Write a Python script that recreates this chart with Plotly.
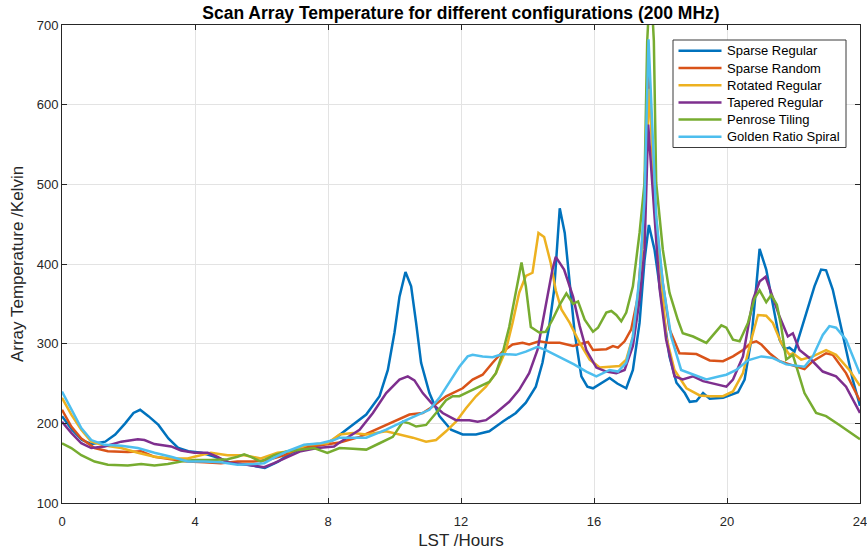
import plotly.graph_objects as go

# LST (hours) and array temperature (K) for each layout
sparse_regular_h = [
    0, 0.3, 0.6, 0.9, 1.3, 1.6, 1.9, 2.15, 2.35, 2.6,
    2.9, 3.2, 3.5, 3.8, 4.2, 4.6, 5.1, 5.6, 6.1, 6.5,
    6.9, 7.4, 7.8, 8.15, 8.55, 9.15, 9.55, 9.8, 10.0, 10.15,
    10.33, 10.5, 10.65, 10.8, 11.05, 11.35, 11.7, 12.05, 12.45, 12.85,
    13.25, 13.65, 13.95, 14.25, 14.45, 14.65, 14.8, 14.97, 15.12, 15.27,
    15.42, 15.62, 15.8, 15.97, 16.2, 16.47, 16.7, 16.97, 17.17, 17.37,
    17.52, 17.65, 17.82, 18.02, 18.27, 18.48, 18.73, 18.88, 19.08, 19.28,
    19.48, 19.88, 20.33, 20.53, 20.73, 20.88, 20.98, 21.18, 21.38, 21.58,
    21.73, 21.88, 22.03, 22.33, 22.63, 22.83, 22.98, 23.18, 23.48, 23.78,
    24,
]
sparse_regular_t = [
    209, 192, 179, 174, 177, 186, 200, 213, 217, 209,
    198, 181, 169, 165, 163, 158, 150, 148, 144, 152,
    163, 171, 173, 179, 192, 211, 234, 267, 314, 359,
    390, 372, 326, 276, 238, 209, 192, 186, 186, 190,
    202, 213, 226, 246, 276, 321, 367, 470, 439, 376,
    313, 259, 246, 244, 250, 257, 250, 244, 267, 326,
    405, 449, 418, 359, 284, 251, 238, 227, 228, 238,
    231, 232, 239, 255, 305, 372, 419, 393, 347, 305,
    293, 295, 290, 330, 372, 393, 392, 368, 313, 255,
    222,
]

sparse_random_h = [
    0, 0.28, 0.58, 0.98, 1.38, 1.98, 2.38, 2.78, 3.28, 3.78,
    4.28, 4.78, 5.28, 5.78, 6.18, 6.68, 7.18, 7.78, 8.35, 8.95,
    9.55, 10.05, 10.45, 10.85, 11.15, 11.55, 12.05, 12.35, 12.65, 12.95,
    13.25, 13.55, 13.85, 14.05, 14.35, 14.65, 14.97, 15.37, 15.82, 15.97,
    16.37, 16.57, 16.72, 16.92, 17.12, 17.32, 17.47, 17.65, 17.87, 18.07,
    18.27, 18.57, 19.08, 19.48, 19.88, 20.18, 20.48, 20.73, 20.88, 21.03,
    21.28, 21.58, 21.88, 22.33, 22.58, 22.98, 23.18, 23.58, 24,
]
sparse_random_t = [
    217, 196, 181, 169, 165, 164, 165, 158, 155, 152,
    151, 150, 152, 152, 154, 160, 169, 173, 176, 183,
    194, 204, 211, 213, 221, 234, 244, 255, 261, 276,
    290, 299, 301, 299, 303, 301, 301, 297, 302, 292,
    293, 297, 295, 303, 318, 359, 439, 637, 447, 376,
    318, 288, 287, 279, 278, 284, 292, 301, 303, 299,
    288, 278, 274, 268, 278, 288, 286, 263, 228,
]

rotated_regular_h = [
    0, 0.28, 0.58, 0.88, 1.28, 1.78, 2.28, 2.78, 3.28, 3.78,
    3.98, 4.48, 4.98, 5.48, 5.98, 6.48, 6.88, 7.38, 7.98, 8.35,
    8.75, 9.15, 9.75, 10.15, 10.55, 10.95, 11.25, 11.55, 11.85, 12.15,
    12.45, 12.75, 13.05, 13.35, 13.55, 13.75, 13.95, 14.15, 14.33, 14.5,
    14.7, 14.85, 15.02, 15.27, 15.57, 15.87, 16.17, 16.47, 16.77, 16.97,
    17.17, 17.37, 17.52, 17.66, 17.87, 18.17, 18.42, 18.78, 19.18, 19.48,
    19.88, 20.18, 20.48, 20.73, 20.93, 21.18, 21.38, 21.63, 21.88, 21.98,
    22.23, 22.58, 22.98, 23.28, 23.68, 24,
]
rotated_regular_t = [
    232, 211, 192, 177, 172, 169, 163, 158, 156, 156,
    158, 163, 160, 160, 156, 163, 165, 173, 175, 186,
    188, 186, 190, 186, 182, 177, 179, 190, 202, 219,
    234, 246, 263, 292, 326, 364, 385, 389, 439, 434,
    401, 367, 343, 326, 301, 280, 270, 271, 272, 280,
    309, 376, 460, 620, 460, 309, 267, 244, 235, 234,
    234, 240, 263, 305, 336, 335, 326, 301, 286, 288,
    280, 284, 292, 286, 267, 247,
]

tapered_regular_h = [
    0, 0.28, 0.58, 0.88, 1.28, 1.78, 2.28, 2.48, 2.78, 3.28,
    3.58, 3.98, 4.38, 4.68, 4.98, 5.38, 5.78, 6.08, 6.38, 6.78,
    7.18, 7.68, 8.18, 8.35, 8.95, 9.35, 9.75, 10.15, 10.4, 10.6,
    10.85, 11.1, 11.45, 11.85, 12.25, 12.5, 12.75, 13.05, 13.45, 13.75,
    14.05, 14.3, 14.55, 14.75, 14.85, 15.0, 15.1, 15.37, 15.57, 15.77,
    16.07, 16.37, 16.67, 16.92, 17.17, 17.37, 17.52, 17.63, 17.8, 17.97,
    18.17, 18.42, 18.67, 18.98, 19.28, 19.68, 19.98, 20.18, 20.48, 20.78,
    20.98, 21.16, 21.33, 21.58, 21.83, 21.98, 22.18, 22.48, 22.88, 23.28,
    23.58, 24,
]
tapered_regular_t = [
    202, 188, 175, 169, 171, 177, 180, 179, 174, 171,
    166, 163, 163, 158, 151, 149, 147, 145, 150, 158,
    165, 169, 171, 176, 192, 213, 238, 255, 259, 254,
    238, 226, 213, 204, 204, 202, 204, 213, 227, 242,
    263, 292, 346, 393, 409, 399, 393, 359, 322, 292,
    270, 265, 263, 267, 297, 355, 418, 575, 470, 370,
    305, 259, 255, 259, 253, 249, 246, 255, 284, 355,
    378, 384, 364, 334, 309, 313, 292, 282, 265, 259,
    246, 213,
]

penrose_tiling_h = [
    0, 0.28, 0.58, 0.98, 1.38, 1.98, 2.38, 2.78, 3.18, 3.58,
    3.98, 4.48, 4.98, 5.28, 5.48, 5.68, 5.98, 6.38, 6.78, 7.18,
    7.58, 7.98, 8.35, 8.75, 9.15, 9.55, 9.95, 10.25, 10.45, 10.65,
    10.95, 11.25, 11.55, 11.75, 11.95, 12.25, 12.55, 12.85, 13.05, 13.25,
    13.45, 13.65, 13.82, 13.95, 14.1, 14.35, 14.55, 14.75, 14.97, 15.17,
    15.37, 15.52, 15.72, 15.97, 16.12, 16.37, 16.52, 16.67, 16.82, 16.97,
    17.17, 17.37, 17.52, 17.6, 17.7, 17.8, 17.87, 18.07, 18.27, 18.52,
    18.67, 18.98, 19.38, 19.83, 19.98, 20.18, 20.38, 20.63, 20.83, 20.98,
    21.18, 21.33, 21.5, 21.63, 21.78, 21.98, 22.33, 22.68, 22.98, 23.38,
    24,
]
penrose_tiling_t = [
    175, 169, 160, 152, 148, 147, 149, 147, 149, 152,
    154, 154, 155, 158, 161, 158, 152, 160, 165, 167,
    169, 163, 169, 168, 167, 175, 183, 202, 200, 196,
    198, 213, 229, 234, 234, 240, 246, 252, 263, 288,
    321, 363, 402, 372, 321, 314, 315, 330, 349, 363,
    350, 353, 330, 315, 320, 339, 341, 336, 328, 339,
    372, 439, 502, 680, 760, 680, 502, 418, 364, 330,
    313, 309, 301, 323, 320, 305, 303, 326, 357, 367,
    352, 361, 349, 322, 280, 286, 238, 213, 209, 198,
    180,
]

golden_spiral_h = [
    0, 0.28, 0.58, 0.88, 1.28, 1.78, 2.28, 2.78, 3.28, 3.78,
    4.28, 4.78, 5.28, 5.78, 6.08, 6.38, 6.78, 7.28, 7.78, 8.18,
    8.35, 9.15, 9.75, 10.35, 10.75, 11.05, 11.35, 11.65, 11.95, 12.2,
    12.35, 12.65, 12.95, 13.25, 13.65, 13.95, 14.3, 14.55, 14.85, 15.15,
    15.4, 15.77, 16.07, 16.47, 16.72, 16.97, 17.17, 17.37, 17.52, 17.64,
    17.87, 18.07, 18.32, 18.62, 18.98, 19.38, 19.78, 19.98, 20.28, 20.63,
    21.03, 21.38, 21.78, 22.08, 22.33, 22.58, 22.88, 23.08, 23.28, 23.58,
    24,
]
golden_spiral_t = [
    240, 217, 194, 179, 173, 172, 169, 163, 158, 152,
    152, 151, 148, 149, 150, 157, 165, 173, 175, 179,
    182, 182, 192, 204, 211, 217, 232, 251, 271, 284,
    286, 284, 283, 287, 286, 290, 296, 292, 286, 280,
    274, 265, 259, 267, 265, 276, 309, 384, 481, 682,
    460, 376, 309, 267, 261, 255, 259, 261, 267, 279,
    284, 282, 274, 272, 271, 284, 311, 322, 320, 305,
    262,
]

series_names = [
    "Sparse Regular", "Sparse Random", "Rotated Regular",
    "Tapered Regular", "Penrose Tiling", "Golden Ratio Spiral",
]
series_hours = [
    sparse_regular_h, sparse_random_h, rotated_regular_h,
    tapered_regular_h, penrose_tiling_h, golden_spiral_h,
]
series_temps = [
    sparse_regular_t, sparse_random_t, rotated_regular_t,
    tapered_regular_t, penrose_tiling_t, golden_spiral_t,
]
series_colors = ["#0072BD", "#D95319", "#EDB120", "#7E2F8E", "#77AC30", "#4DBEEE"]

x_ticks = [0, 4, 8, 12, 16, 20, 24]
y_ticks = [100, 200, 300, 400, 500, 600, 700]

# Figure geometry (pixels) used to place the boxed key inside the axes
W, H = 867, 554
M_L, M_R, M_T, M_B = 62, 7, 25, 51
PLOT_W = W - M_L - M_R
PLOT_H = H - M_T - M_B


def px_to_paper_x(px):
    return (px - M_L) / PLOT_W


def px_to_paper_y(py):
    return (H - M_B - py) / PLOT_H


fig = go.Figure()
for name, hours, temps, color in zip(series_names, series_hours, series_temps, series_colors):
    fig.add_trace(go.Scatter(
        x=hours, y=temps, name=name, mode="lines",
        line=dict(color=color, width=2.5),
        showlegend=False,
    ))

axis_color = "#262626"
grid_color = "#e3e3e3"
font_family = "Liberation Sans, Arial, sans-serif"

# Boxed key in the upper right of the axes
key_left, key_right, key_top, key_bottom = 673, 846, 40, 147.5
key_line_x0, key_line_x1, key_text_x = 678.5, 721.5, 725
key_row0, key_row_step = 50.8, 17.2

shapes = [dict(
    type="rect", xref="paper", yref="paper",
    x0=px_to_paper_x(key_left), x1=px_to_paper_x(key_right),
    y0=px_to_paper_y(key_bottom), y1=px_to_paper_y(key_top),
    line=dict(color="#3a3a3a", width=1), fillcolor="white", layer="above",
)]
annotations = []
for i, (name, color) in enumerate(zip(series_names, series_colors)):
    row_y = px_to_paper_y(key_row0 + i * key_row_step)
    shapes.append(dict(
        type="line", xref="paper", yref="paper",
        x0=px_to_paper_x(key_line_x0), x1=px_to_paper_x(key_line_x1),
        y0=row_y, y1=row_y,
        line=dict(color=color, width=2.5), layer="above",
    ))
    annotations.append(dict(
        text=name, xref="paper", yref="paper",
        x=px_to_paper_x(key_text_x), y=row_y,
        xanchor="left", yanchor="middle", showarrow=False,
        font=dict(size=13, color="black", family=font_family),
    ))

fig.update_layout(
    width=W, height=H,
    margin=dict(l=M_L, r=M_R, t=M_T, b=M_B, autoexpand=False),
    paper_bgcolor="white", plot_bgcolor="white",
    font=dict(family=font_family, color=axis_color, size=13),
    title=dict(
        text="<b>Scan Array Temperature for different configurations (200 MHz)</b>",
        x=(M_L + PLOT_W / 2) / W, xanchor="center",
        y=1 - 12.5 / H, yanchor="middle",
        font=dict(size=17.5, color="black"),
    ),
    shapes=shapes,
    annotations=annotations,
)
fig.update_xaxes(
    range=[0, 24], tickvals=x_ticks, ticktext=[str(v) for v in x_ticks],
    showgrid=True, gridcolor=grid_color, gridwidth=1,
    showline=True, linecolor=axis_color, linewidth=1, mirror="ticks",
    ticks="inside", ticklen=5, tickcolor=axis_color,
    ticklabelstandoff=6, ticklabeloverflow="allow", automargin=False,
    zeroline=False,
    title=dict(text="LST /Hours", font=dict(size=17), standoff=6),
)
fig.update_yaxes(
    range=[100, 700], tickvals=y_ticks, ticktext=[str(v) for v in y_ticks],
    showgrid=True, gridcolor=grid_color, gridwidth=1,
    showline=True, linecolor=axis_color, linewidth=1, mirror="ticks",
    ticks="inside", ticklen=5, tickcolor=axis_color,
    ticklabeloverflow="allow", automargin=False,
    zeroline=False,
    title=dict(text="Array Temperature /Kelvin", font=dict(size=17), standoff=8),
)

fig.write_html("out.html")
